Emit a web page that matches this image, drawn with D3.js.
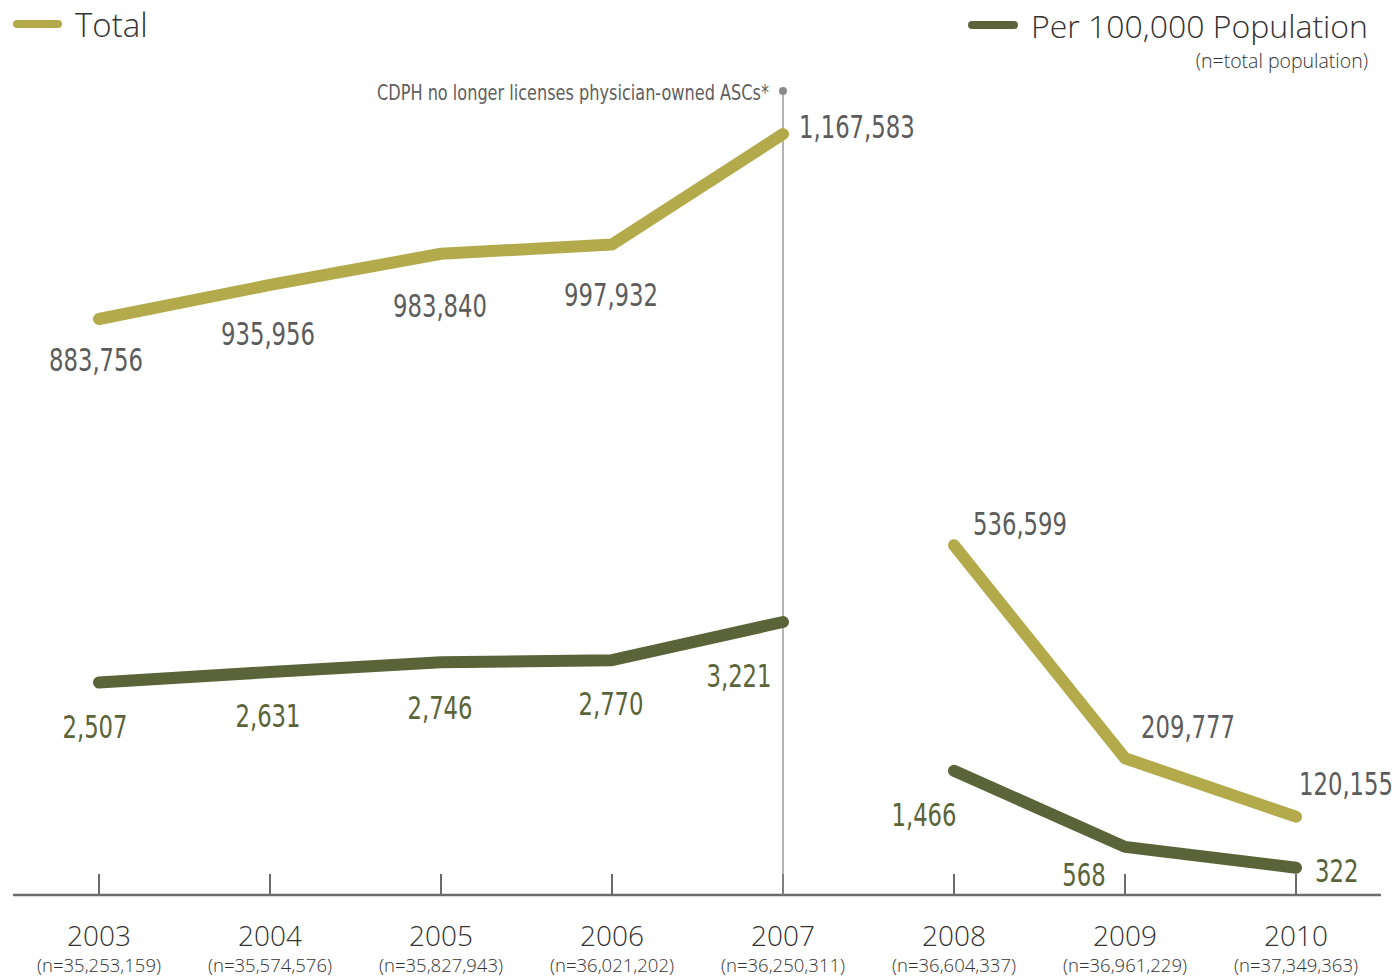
<!DOCTYPE html>
<html>
<head>
<meta charset="utf-8">
<script src="https://cdn.jsdelivr.net/npm/d3@7/dist/d3.min.js"></script>
<style>
  html, body { margin: 0; padding: 0; background: #fff; }
  svg { display: block; }
</style>
</head>
<body>
<svg id="chart" width="1395" height="976"></svg>
<script>
// ---- data ----
const years = [2003, 2004, 2005, 2006, 2007, 2008, 2009, 2010];
const populations = ["35,253,159", "35,574,576", "35,827,943", "36,021,202", "36,250,311", "36,604,337", "36,961,229", "37,349,363"];
const totalValues = [883756, 935956, 983840, 997932, 1167583, 536599, 209777, 120155];
const perValues = [2507, 2631, 2746, 2770, 3221, 1466, 568, 322];
const seriesNames = ["Total", "Per 100,000 Population"];
const legendNote = "(n=total population)";
const annotationText = "CDPH no longer licenses physician-owned ASCs*";
const annotationYear = 2007;
const breakAfterYear = 2007;

// ---- layout ----
const colTotal = "#b3aa4b";
const colPer = "#5a6438";
const baseY = 895;
const svg = d3.select("#chart");
const x = d3.scalePoint().domain(years).range([99, 1296]);
const yTotal = d3.scaleLinear().domain([0, d3.max(totalValues)]).range([baseY, 134]);
const yPer = d3.scaleLinear().domain([0, d3.max(perValues)]).range([baseY, 622]);

// label placement offsets (layout only)
const totalLabelPos = [
  {dx: -3, dy: 52, a: "middle"}, {dx: -2, dy: 60, a: "middle"}, {dx: -1, dy: 63, a: "middle"},
  {dx: -1, dy: 61, a: "middle"}, {dx: 16, dy: 4, a: "start"}, {dx: 66, dy: -10, a: "middle"},
  {dx: 63, dy: -20, a: "middle"}, {dx: 3, dy: -22, a: "start"}
];
const perLabelPos = [
  {dx: -4, dy: 55, a: "middle"}, {dx: -2, dy: 55, a: "middle"}, {dx: -1, dy: 57, a: "middle"},
  {dx: -1, dy: 55, a: "middle"}, {dx: -44, dy: 65, a: "middle"}, {dx: -30, dy: 55, a: "middle"},
  {dx: -41, dy: 39, a: "middle"}, {dx: 19, dy: 14, a: "start"}
];

const fmt = d3.format(",");
const narrow = "'DejaVu Sans Condensed', 'DejaVu Sans', sans-serif";
const sans = "'Open Sans', 'Noto Sans', sans-serif";
const squeezeX = 0.79;

// ---- axis ----
svg.append("line").attr("x1", 13).attr("x2", 1381).attr("y1", baseY).attr("y2", baseY)
  .attr("stroke", "#6b6b6b").attr("stroke-width", 2.5);
const tickG = svg.append("g").selectAll("g").data(years).join("g")
  .attr("transform", d => `translate(${x(d)},0)`);
tickG.append("line").attr("y1", 874).attr("y2", baseY).attr("stroke", "#6b6b6b").attr("stroke-width", 2);
tickG.append("text").attr("y", 946).attr("text-anchor", "middle")
  .attr("font-family", sans).attr("font-weight", 300).attr("font-size", 28).attr("fill", "#333")
  .text(d => d);
tickG.append("text").attr("y", 972).attr("text-anchor", "middle")
  .attr("font-family", sans).attr("font-weight", 300).attr("font-size", 18.5).attr("fill", "#333")
  .text((d, i) => `(n=${populations[i]})`);

// ---- annotation ----
svg.append("line").attr("x1", x(annotationYear)).attr("x2", x(annotationYear))
  .attr("y1", 91).attr("y2", baseY).attr("stroke", "#8a8a8a").attr("stroke-width", 1.3);
svg.append("circle").attr("cx", x(annotationYear)).attr("cy", 91).attr("r", 4).attr("fill", "#8a8a8a");
svg.append("text").attr("x", 769).attr("y", 100).attr("text-anchor", "end")
  .attr("font-family", narrow).attr("font-size", 22).attr("fill", "#606060")
  .attr("textLength", 392).attr("lengthAdjust", "spacingAndGlyphs")
  .text(annotationText);

// ---- lines ----
function segments(vals) {
  const pts = years.map((yr, i) => ({yr, v: vals[i], i}));
  return [pts.filter(p => p.yr <= breakAfterYear), pts.filter(p => p.yr > breakAfterYear)];
}
function drawSeries(vals, yScale, color, pos, labelColor) {
  const line = d3.line().x(d => x(d.yr)).y(d => yScale(d.v));
  svg.append("g").selectAll("path").data(segments(vals)).join("path")
    .attr("d", line).attr("fill", "none").attr("stroke", color).attr("stroke-width", 12)
    .attr("stroke-linecap", "round").attr("stroke-linejoin", "round");
  svg.append("g").selectAll("text").data(vals).join("text")
    .attr("transform", (d, i) =>
      `translate(${x(years[i]) + pos[i].dx},${yScale(d) + pos[i].dy}) scale(${squeezeX},1)`)
    .attr("text-anchor", (d, i) => pos[i].a)
    .attr("font-family", narrow).attr("font-size", 32).attr("fill", labelColor)
    .text(d => fmt(d));
}
drawSeries(totalValues, yTotal, colTotal, totalLabelPos, "#5c5c5c");
drawSeries(perValues, yPer, colPer, perLabelPos, colPer);

// ---- legend ----
svg.append("line").attr("x1", 17).attr("x2", 58).attr("y1", 24).attr("y2", 24)
  .attr("stroke", colTotal).attr("stroke-width", 8).attr("stroke-linecap", "round");
svg.append("text").attr("x", 75).attr("y", 37).attr("font-family", sans).attr("font-weight", 300)
  .attr("font-size", 33).attr("fill", "#333").text(seriesNames[0]);
svg.append("line").attr("x1", 972).attr("x2", 1014).attr("y1", 25).attr("y2", 25)
  .attr("stroke", colPer).attr("stroke-width", 8).attr("stroke-linecap", "round");
svg.append("text").attr("x", 1368).attr("y", 38).attr("text-anchor", "end").attr("font-family", sans)
  .attr("font-weight", 300).attr("font-size", 32).attr("fill", "#333").text(seriesNames[1]);
svg.append("text").attr("x", 1368).attr("y", 68).attr("text-anchor", "end").attr("font-family", sans)
  .attr("font-weight", 300).attr("font-size", 19.5).attr("fill", "#333").text(legendNote);
</script>
</body>
</html>
